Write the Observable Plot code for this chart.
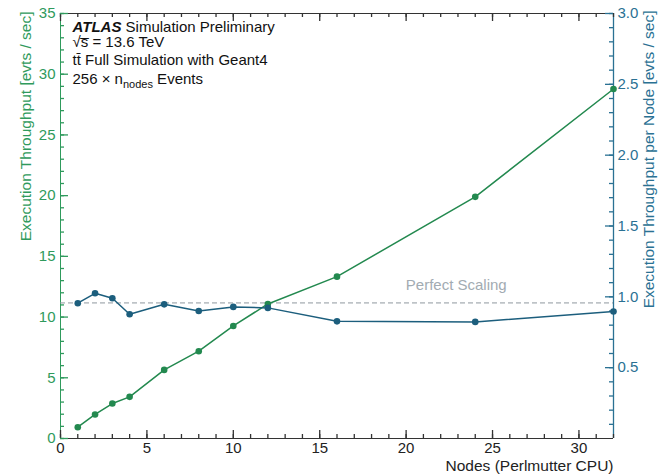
<!DOCTYPE html>
<html>
<head>
<meta charset="utf-8">
<script src="https://cdn.jsdelivr.net/npm/d3@7"></script>
<script src="https://cdn.jsdelivr.net/npm/@observablehq/plot@0.6"></script>
<style>
  body { margin: 0; background: #fff; }
  #chart svg { display: block; }
</style>
</head>
<body>
<div id="chart"></div>
<script>
// ---- data ----
const nodes = [1, 2, 3, 4, 6, 8, 10, 12, 16, 24, 32];
const throughput = [0.93, 1.98, 2.88, 3.43, 5.65, 7.19, 9.27, 11.08, 13.33, 19.9, 28.78]; // evts/sec
const perNode = [0.955, 1.025, 0.99, 0.877, 0.947, 0.90, 0.929, 0.922, 0.827, 0.823, 0.896]; // evts/sec per node
const perfectScaling = 0.957;

const xMajorTicks = [0, 5, 10, 15, 20, 25, 30];
const leftMajorTicks = [0, 5, 10, 15, 20, 25, 30, 35];
const rightMajorTicks = [0.5, 1.0, 1.5, 2.0, 2.5, 3.0];

const xDomain = [0, 32];
const leftDomain = [0, 35];
const rightDomain = [0, 3];

const annotationLines = [
  "ATLAS Simulation Preliminary",
  "\u221As\u0305 = 13.6 TeV",
  "tt\u0304 Full Simulation with Geant4",
  "256 \u00D7 nnodes Events"
];
const xLabel = "Nodes (Perlmutter CPU)";
const leftLabel = "Execution Throughput [evts / sec]";
const rightLabel = "Execution Throughput per Node [evts / sec]";
const perfectLabel = "Perfect Scaling";

// ---- layout & styling ----
const W = 660, H = 475;
const mL = 60, mR = 47, mT = 13, mB = 37;
const frameW = W - mL - mR, frameH = H - mT - mB;
const green = "#23894f";
const greenText = "#2f9a5c";
const blue = "#1c5e7d";
const blueText = "#2a7193";
const gray = "#8e979e";
const k = leftDomain[1] / rightDomain[1]; // right-axis to left-axis factor

const xMinor = d3.range(0, 33);
const leftMinor = d3.range(0, 36);
const rightMinor = d3.range(1, 31).map(i => i / 10);

const greenData = nodes.map((n, i) => ({n, v: throughput[i]}));
const blueData = nodes.map((n, i) => ({n, v: perNode[i] * k}));

// inward tick marks: pixel lengths converted to data units of the frame
const yPerPx = (leftDomain[1] - leftDomain[0]) / frameH;
const xPerPx = (xDomain[1] - xDomain[0]) / frameW;
function ticksX(values, side, len, color) {
  const a = side === "bottom" ? leftDomain[0] : leftDomain[1];
  const b = side === "bottom" ? a + len * yPerPx : a - len * yPerPx;
  return Plot.ruleX(values, {x: d => d, y1: a, y2: b, stroke: color, strokeWidth: 1.3});
}
function ticksY(values, side, len, color) {
  const a = side === "left" ? xDomain[0] : xDomain[1];
  const b = side === "left" ? a + len * xPerPx : a - len * xPerPx;
  return Plot.ruleY(values, {y: d => d, x1: a, x2: b, stroke: color, strokeWidth: 1.3});
}

const plot = Plot.plot({
  width: W,
  height: H,
  marginLeft: mL,
  marginRight: mR,
  marginTop: mT,
  marginBottom: mB,
  style: {fontFamily: "'Liberation Sans', Arial, sans-serif", fontSize: "15px", background: "#fff", overflow: "visible"},
  x: {domain: xDomain},
  y: {domain: leftDomain},
  marks: [
    // tick labels
    Plot.axisX({ticks: xMajorTicks, tickSize: 0, tickPadding: 4, label: null, fill: "#222"}),
    Plot.axisY({ticks: leftMajorTicks, tickSize: 0, tickPadding: 5, label: null, fill: greenText}),
    Plot.axisY({anchor: "right", ticks: rightMajorTicks.map(v => v * k), tickSize: 0, tickPadding: 4, label: null, fill: blueText,
      tickFormat: v => (v / k).toFixed(1)}),
    // frame
    Plot.ruleY([leftDomain[0]], {stroke: "#333"}),
    Plot.ruleY([leftDomain[1]], {stroke: "#333"}),
    Plot.ruleX([xDomain[0]], {stroke: greenText}),
    Plot.ruleX([xDomain[1]], {stroke: blueText, strokeWidth: 1.3}),
    // inward ticks
    ticksX(xMinor, "bottom", 4, "#333"),
    ticksX(xMajorTicks, "bottom", 8, "#333"),
    ticksX(xMinor, "top", 4, "#333"),
    ticksX(xMajorTicks, "top", 8, "#333"),
    ticksY(leftMinor, "left", 4, greenText),
    ticksY(leftMajorTicks, "left", 8, greenText),
    ticksY(rightMinor.map(v => v * k), "right", 4, blueText),
    ticksY(rightMajorTicks.map(v => v * k), "right", 8, blueText),
    // perfect scaling
    Plot.ruleY([perfectScaling * k], {stroke: gray, strokeDasharray: "5,3", strokeWidth: 1}),
    Plot.text([perfectLabel], {x: 22.9, y: perfectScaling * k, dy: -18, fill: "#a2abb2", fontSize: 15}),
    // series
    Plot.line(greenData, {x: "n", y: "v", stroke: green, strokeWidth: 1.5}),
    Plot.dot(greenData, {x: "n", y: "v", r: 3.3, fill: green}),
    Plot.line(blueData, {x: "n", y: "v", stroke: blue, strokeWidth: 1.5}),
    Plot.dot(blueData, {x: "n", y: "v", r: 3.3, fill: blue}),
    // annotations
    Plot.text([annotationLines[0]], {frameAnchor: "top-left", dx: 12, dy: 7.7, lineAnchor: "top", textAnchor: "start", fill: "#111", fontSize: 15}),
    Plot.text([annotationLines[1]], {frameAnchor: "top-left", dx: 12, dy: 23, lineAnchor: "top", textAnchor: "start", fill: "#111", fontSize: 15}),
    Plot.text([annotationLines[2]], {frameAnchor: "top-left", dx: 12, dy: 41, lineAnchor: "top", textAnchor: "start", fill: "#111", fontSize: 15}),
    Plot.text([annotationLines[3]], {frameAnchor: "top-left", dx: 12, dy: 59.5, lineAnchor: "top", textAnchor: "start", fill: "#111", fontSize: 15}),
    // axis labels
    Plot.text([xLabel], {frameAnchor: "bottom-right", textAnchor: "end", lineAnchor: "bottom", dy: 32, fill: "#222", fontSize: 15.5}),
    Plot.text([leftLabel], {frameAnchor: "top-left", textAnchor: "end", lineAnchor: "bottom", rotate: -90, dx: -30, dy: -2, fill: greenText, fontSize: 15.5}),
    Plot.text([rightLabel], {frameAnchor: "top-right", textAnchor: "end", lineAnchor: "bottom", rotate: -90, dx: 40, dy: -3, fill: blueText, fontSize: 15.5})
  ]
});

document.getElementById("chart").appendChild(plot);

// rich text for the annotation block
d3.select(plot).selectAll("text").each(function () {
  const t = this.textContent;
  const sel = d3.select(this);
  if (t === annotationLines[0]) {
    this.textContent = "";
    sel.append("tspan").attr("font-weight", "bold").attr("font-style", "italic").text("ATLAS");
    sel.append("tspan").text(" Simulation Preliminary");
  } else if (t === annotationLines[3]) {
    this.textContent = "";
    sel.append("tspan").text("256 \u00D7 n");
    sel.append("tspan").attr("font-size", 11).attr("dy", 4).text("nodes");
    sel.append("tspan").attr("dy", -4).text(" Events");
  }
});
</script>
</body>
</html>
